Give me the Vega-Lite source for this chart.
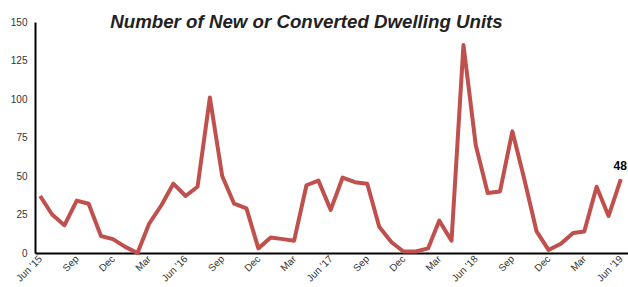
{
  "$schema": "https://vega.github.io/schema/vega-lite/v6.json",
  "autosize": {"type": "none"},
  "width": 593,
  "height": 231,
  "padding": {"left": 35, "top": 22, "right": 0, "bottom": 34},
  "background": "white",
  "config": {"view": {"stroke": null}, "font": "Liberation Sans"},
  "title": {
    "text": "Number of New or Converted Dwelling Units",
    "font": "Liberation Sans",
    "fontSize": 18.7,
    "fontWeight": "bold",
    "fontStyle": "italic",
    "color": "#222222",
    "anchor": "middle",
    "dx": -25,
    "offset": -15
  },
  "data": {
    "values": [
      {"month": "2015-06-01", "units": 37},
      {"month": "2015-07-01", "units": 25},
      {"month": "2015-08-01", "units": 18},
      {"month": "2015-09-01", "units": 34},
      {"month": "2015-10-01", "units": 32},
      {"month": "2015-11-01", "units": 11},
      {"month": "2015-12-01", "units": 9},
      {"month": "2016-01-01", "units": 4},
      {"month": "2016-02-01", "units": 0},
      {"month": "2016-03-01", "units": 19},
      {"month": "2016-04-01", "units": 31},
      {"month": "2016-05-01", "units": 45},
      {"month": "2016-06-01", "units": 37},
      {"month": "2016-07-01", "units": 43},
      {"month": "2016-08-01", "units": 101},
      {"month": "2016-09-01", "units": 50},
      {"month": "2016-10-01", "units": 32},
      {"month": "2016-11-01", "units": 29},
      {"month": "2016-12-01", "units": 3},
      {"month": "2017-01-01", "units": 10},
      {"month": "2017-02-01", "units": 9},
      {"month": "2017-03-01", "units": 8},
      {"month": "2017-04-01", "units": 44},
      {"month": "2017-05-01", "units": 47},
      {"month": "2017-06-01", "units": 28},
      {"month": "2017-07-01", "units": 49},
      {"month": "2017-08-01", "units": 46},
      {"month": "2017-09-01", "units": 45},
      {"month": "2017-10-01", "units": 17},
      {"month": "2017-11-01", "units": 7},
      {"month": "2017-12-01", "units": 1},
      {"month": "2018-01-01", "units": 1},
      {"month": "2018-02-01", "units": 3},
      {"month": "2018-03-01", "units": 21},
      {"month": "2018-04-01", "units": 8},
      {"month": "2018-05-01", "units": 135},
      {"month": "2018-06-01", "units": 70},
      {"month": "2018-07-01", "units": 39},
      {"month": "2018-08-01", "units": 40},
      {"month": "2018-09-01", "units": 79},
      {"month": "2018-10-01", "units": 48},
      {"month": "2018-11-01", "units": 14},
      {"month": "2018-12-01", "units": 2},
      {"month": "2019-01-01", "units": 6},
      {"month": "2019-02-01", "units": 13},
      {"month": "2019-03-01", "units": 14},
      {"month": "2019-04-01", "units": 43},
      {"month": "2019-05-01", "units": 24},
      {"month": "2019-06-01", "units": 48}
    ]
  },
  "encoding": {
    "x": {
      "field": "month",
      "type": "temporal",
      "scale": {"domain": ["2015-05-19", "2019-06-19"]},
      "axis": {
        "title": null,
        "values": ["2015-06-01", "2015-09-01", "2015-12-01", "2016-03-01", "2016-06-01", "2016-09-01", "2016-12-01", "2017-03-01", "2017-06-01", "2017-09-01", "2017-12-01", "2018-03-01", "2018-06-01", "2018-09-01", "2018-12-01", "2019-03-01", "2019-06-01"],
        "labelExpr": "month(datum.value) == 5 ? timeFormat(datum.value, \"Jun '%y\") : timeFormat(datum.value, '%b')",
        "labelAngle": -45,
        "labelAlign": "right",
        "labelBaseline": "middle",
        "labelFont": "Liberation Sans",
        "labelFontSize": 10,
        "labelColor": "#333333",
        "labelPadding": 4,
        "ticks": false,
        "grid": false,
        "domainColor": "#000000",
        "domainWidth": 2,
        "labelOverlap": false
      }
    },
    "y": {
      "field": "units",
      "type": "quantitative",
      "scale": {"domain": [0, 150]},
      "axis": {
        "title": null,
        "values": [0, 25, 50, 75, 100, 125, 150],
        "labelFont": "Liberation Sans",
        "labelFontSize": 10,
        "labelColor": "#333333",
        "labelPadding": 8,
        "ticks": false,
        "grid": false,
        "domainColor": "#000000",
        "domainWidth": 2
      }
    }
  },
  "layer": [
    {
      "mark": {"type": "line", "color": "#C0504D", "strokeWidth": 4, "strokeJoin": "round"}
    },
    {
      "transform": [{"filter": "year(datum.month) == 2019 && month(datum.month) == 5"}],
      "mark": {"type": "text", "align": "right", "baseline": "alphabetic", "dx": 6, "dy": -9, "fontSize": 12, "fontWeight": "bold", "font": "Liberation Sans", "color": "#000000"},
      "encoding": {"text": {"field": "units", "type": "quantitative"}}
    }
  ]
}
